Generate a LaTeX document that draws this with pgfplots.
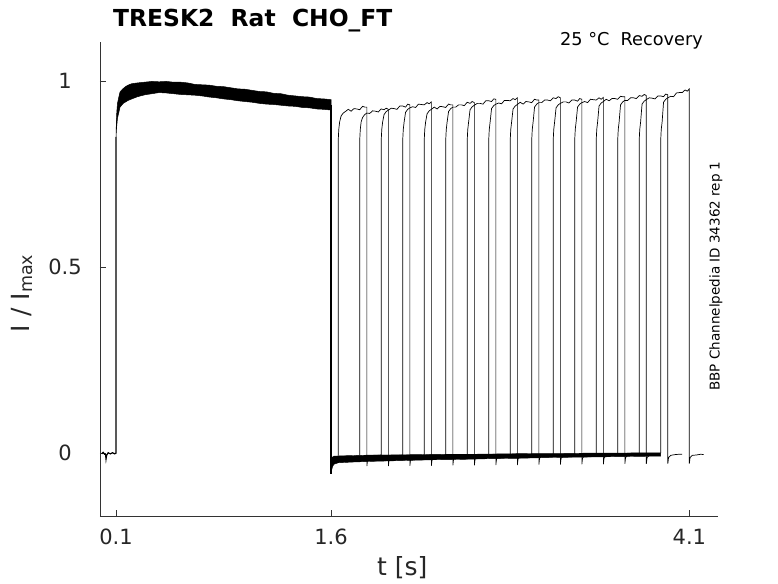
\documentclass[border=0pt]{standalone}
\usepackage{fontspec}
\setmainfont{DejaVu Sans}
\usepackage{pgfplots}
\pgfplotsset{compat=1.18}
\pgfplotsset{tr/.style={black, line width=0.7pt, mark=none}}
\begin{document}
\begin{tikzpicture}
\useasboundingbox (-100pt,-67pt) rectangle (678pt,516pt);
\begin{axis}[
  at={(0,0)}, anchor=south west,
  scale only axis, width=618pt, height=474pt,
  xmin=-0.012, xmax=4.3, ymin=-0.169, ymax=1.105,
  axis x line*=bottom, axis y line*=left,
  axis line style={line width=0.6pt, black!80},
  tick align=inside, major tick length=6pt,
  tick style={line width=0.6pt, black!80},
  xtick={0.1,1.6,4.1}, xticklabels={0.1,1.6,4.1},
  ytick={0,0.5,1}, yticklabels={0,0.5,1},
  /pgf/number format/assume math mode=true,
  tick label style={font=\fontsize{21}{25}\selectfont, text=black!85},
  xticklabel style={anchor=center, yshift=-21pt},
  yticklabel style={anchor=center, xshift=-35pt},
  every axis x label/.style={at={(axis description cs:0.489,-0.108)}, anchor=center},
  every axis y label/.style={at={(axis description cs:-0.126,0.47)}, anchor=center, rotate=90},
  label style={font=\fontsize{25}{30}\selectfont, text=black!85},
  xlabel={t [s]},
  ylabel={I / I\textsubscript{max}},
]
% holding before first pulse
\addplot[black, line width=1.2pt, mark=none] coordinates {(0,-0.002)(0.01,0.002)(0.02,-0.003)(0.027,-0.004)(0.03,-0.016)(0.034,-0.006)(0.045,0.001)(0.06,-0.002)(0.075,0.001)(0.09,-0.002)(0.1,0)(0.1,0.85)};
% first (conditioning) pulse, overlaid sweeps as band
\addplot[black, fill=black, line width=0.5pt, mark=none] coordinates {
(0.1,0.85)(0.102,0.89)(0.105,0.915)(0.11,0.94)(0.12,0.958)(0.128,0.971)(0.14,0.976)(0.15,0.98)(0.17,0.986)(0.184,0.989)(0.21,0.993)(0.25,0.995)(0.3,0.997)(0.35,0.999)(0.4,0.998)(0.45,0.999)(0.5,0.997)(0.55,0.997)(0.6,0.995)(0.65,0.991)(0.7,0.99)(0.75,0.989)(0.8,0.986)(0.85,0.985)(0.9,0.982)(0.95,0.979)(1.0,0.978)(1.05,0.975)(1.1,0.972)(1.15,0.971)(1.2,0.967)(1.25,0.966)(1.3,0.962)(1.35,0.96)(1.4,0.958)(1.45,0.957)(1.5,0.953)(1.55,0.952)(1.6,0.95)
(1.6,0.922)(1.55,0.924)(1.5,0.925)(1.45,0.928)(1.4,0.929)(1.35,0.932)(1.3,0.933)(1.25,0.935)(1.2,0.937)(1.15,0.938)(1.1,0.94)(1.05,0.943)(1.0,0.945)(0.95,0.947)(0.9,0.95)(0.85,0.952)(0.8,0.955)(0.75,0.957)(0.7,0.96)(0.65,0.962)(0.6,0.963)(0.55,0.964)(0.5,0.966)(0.45,0.968)(0.4,0.969)(0.35,0.966)(0.3,0.963)(0.25,0.958)(0.21,0.952)(0.184,0.948)(0.15,0.94)(0.128,0.93)(0.11,0.9)(0.105,0.88)(0.102,0.865)(0.1,0.85)} -- cycle;
\addplot[black, line width=1.5pt, mark=none] coordinates {(1.6,0.935)(1.6,-0.055)};
% baseline band after first pulse
\addplot[black, fill=black, line width=0.4pt, mark=none] coordinates {
(1.6,-0.055)(1.601,-0.02)(1.605,-0.012)(1.62,-0.008)(1.7,-0.007)(1.8,-0.006)(1.9,-0.005)(2.0,-0.005)(2.2,-0.004)(2.4,-0.003)(2.6,-0.003)(2.8,-0.002)(3.0,-0.001)(3.2,-0.001)(3.4,0.0)(3.6,0.0)(3.8,0.001)(3.9,0.001)
(3.9,-0.008)(3.7,-0.009)(3.5,-0.01)(3.3,-0.011)(3.1,-0.012)(2.9,-0.014)(2.7,-0.015)(2.5,-0.017)(2.3,-0.018)(2.1,-0.02)(1.9,-0.022)(1.75,-0.024)(1.65,-0.026)(1.62,-0.03)(1.61,-0.037)(1.605,-0.045)(1.602,-0.051)} -- cycle;
% test pulses
\addplot[tr] coordinates {(1.65,-0.007)(1.65,0.84)(1.654,0.87)(1.66,0.89)(1.67,0.906)(1.685,0.914)(1.70,0.918)(1.72,0.924)(1.74,0.919)(1.76,0.926)(1.78,0.925)(1.80,0.923)(1.82,0.932)(1.835,0.930)(1.85,0.930)(1.85,-0.035)(1.855,-0.018)(1.87,-0.01)(1.90,-0.007)(1.95,-0.005)};
\addplot[tr] coordinates {(1.80,-0.006)(1.80,0.84)(1.804,0.87)(1.81,0.89)(1.82,0.902)(1.835,0.91)(1.85,0.914)(1.87,0.913)(1.89,0.920)(1.91,0.919)(1.93,0.917)(1.95,0.925)(1.97,0.923)(1.985,0.927)(2.00,0.924)(2.00,-0.035)(2.005,-0.018)(2.02,-0.01)(2.05,-0.007)(2.10,-0.005)};
\addplot[tr] coordinates {(1.95,-0.006)(1.95,0.84)(1.954,0.87)(1.96,0.89)(1.97,0.91)(1.985,0.918)(2.00,0.922)(2.02,0.927)(2.04,0.926)(2.06,0.924)(2.08,0.933)(2.10,0.933)(2.12,0.930)(2.135,0.938)(2.15,0.936)(2.15,-0.034)(2.155,-0.017)(2.17,-0.01)(2.20,-0.007)(2.25,-0.005)};
\addplot[tr] coordinates {(2.10,-0.005)(2.10,0.84)(2.104,0.87)(2.11,0.89)(2.12,0.916)(2.135,0.924)(2.15,0.928)(2.17,0.931)(2.19,0.929)(2.21,0.938)(2.23,0.937)(2.25,0.936)(2.27,0.942)(2.285,0.939)(2.30,0.944)(2.30,-0.034)(2.305,-0.017)(2.32,-0.01)(2.35,-0.007)(2.40,-0.005)};
\addplot[tr] coordinates {(2.25,-0.005)(2.25,0.84)(2.254,0.87)(2.26,0.89)(2.27,0.912)(2.285,0.92)(2.30,0.924)(2.32,0.930)(2.34,0.925)(2.36,0.932)(2.38,0.931)(2.40,0.929)(2.42,0.938)(2.435,0.936)(2.45,0.936)(2.45,-0.033)(2.455,-0.016)(2.47,-0.009)(2.50,-0.006)(2.55,-0.004)};
\addplot[tr] coordinates {(2.40,-0.004)(2.40,0.84)(2.404,0.87)(2.41,0.89)(2.42,0.918)(2.435,0.926)(2.45,0.930)(2.47,0.930)(2.49,0.936)(2.51,0.936)(2.53,0.934)(2.55,0.943)(2.57,0.940)(2.585,0.945)(2.60,0.942)(2.60,-0.033)(2.605,-0.016)(2.62,-0.009)(2.65,-0.006)(2.70,-0.004)};
\addplot[tr] coordinates {(2.55,-0.004)(2.55,0.84)(2.554,0.87)(2.56,0.89)(2.57,0.923)(2.585,0.931)(2.60,0.935)(2.62,0.940)(2.64,0.940)(2.66,0.938)(2.68,0.947)(2.70,0.947)(2.72,0.945)(2.735,0.952)(2.75,0.951)(2.75,-0.032)(2.755,-0.015)(2.77,-0.009)(2.80,-0.006)(2.85,-0.004)};
\addplot[tr] coordinates {(2.70,-0.003)(2.70,0.84)(2.704,0.87)(2.71,0.89)(2.72,0.926)(2.735,0.934)(2.75,0.938)(2.77,0.941)(2.79,0.939)(2.81,0.948)(2.83,0.948)(2.85,0.947)(2.87,0.953)(2.885,0.950)(2.90,0.955)(2.90,-0.032)(2.905,-0.015)(2.92,-0.008)(2.95,-0.005)(3.00,-0.003)};
\addplot[tr] coordinates {(2.85,-0.003)(2.85,0.84)(2.854,0.87)(2.86,0.89)(2.87,0.925)(2.885,0.933)(2.90,0.937)(2.92,0.943)(2.94,0.938)(2.96,0.945)(2.98,0.944)(3.00,0.942)(3.02,0.951)(3.035,0.949)(3.05,0.949)(3.05,-0.031)(3.055,-0.014)(3.07,-0.008)(3.10,-0.005)(3.15,-0.003)};
\addplot[tr] coordinates {(3.00,-0.002)(3.00,0.84)(3.004,0.87)(3.01,0.89)(3.02,0.930)(3.035,0.938)(3.05,0.942)(3.07,0.942)(3.09,0.949)(3.11,0.949)(3.13,0.947)(3.15,0.955)(3.17,0.953)(3.185,0.958)(3.20,0.955)(3.20,-0.031)(3.205,-0.014)(3.22,-0.008)(3.25,-0.005)(3.30,-0.003)};
\addplot[tr] coordinates {(3.15,-0.002)(3.15,0.84)(3.154,0.87)(3.16,0.89)(3.17,0.928)(3.185,0.936)(3.20,0.940)(3.22,0.944)(3.24,0.944)(3.26,0.941)(3.28,0.949)(3.30,0.949)(3.32,0.946)(3.335,0.953)(3.35,0.951)(3.35,-0.030)(3.355,-0.013)(3.37,-0.007)(3.40,-0.004)(3.45,-0.002)};
\addplot[tr] coordinates {(3.30,-0.002)(3.30,0.84)(3.304,0.87)(3.31,0.89)(3.32,0.930)(3.335,0.938)(3.35,0.942)(3.37,0.945)(3.39,0.942)(3.41,0.951)(3.43,0.950)(3.45,0.949)(3.47,0.955)(3.485,0.951)(3.50,0.956)(3.50,-0.030)(3.505,-0.013)(3.52,-0.007)(3.55,-0.004)(3.60,-0.002)};
\addplot[tr] coordinates {(3.45,-0.001)(3.45,0.84)(3.454,0.87)(3.46,0.89)(3.47,0.933)(3.485,0.941)(3.50,0.945)(3.52,0.951)(3.54,0.947)(3.56,0.953)(3.58,0.953)(3.60,0.951)(3.62,0.959)(3.635,0.958)(3.65,0.958)(3.65,-0.029)(3.655,-0.012)(3.67,-0.006)(3.70,-0.004)(3.75,-0.002)};
\addplot[tr] coordinates {(3.60,-0.001)(3.60,0.84)(3.604,0.87)(3.61,0.89)(3.62,0.936)(3.635,0.944)(3.65,0.948)(3.67,0.948)(3.69,0.955)(3.71,0.955)(3.73,0.953)(3.75,0.961)(3.77,0.959)(3.785,0.964)(3.80,0.961)(3.80,-0.029)(3.805,-0.012)(3.82,-0.006)(3.85,-0.004)(3.90,-0.002)};
\addplot[tr] coordinates {(3.75,0.0)(3.75,0.84)(3.754,0.87)(3.76,0.89)(3.77,0.938)(3.785,0.946)(3.80,0.950)(3.82,0.955)(3.84,0.954)(3.86,0.952)(3.88,0.960)(3.90,0.960)(3.92,0.958)(3.935,0.965)(3.95,0.963)(3.95,-0.028)(3.955,-0.012)(3.97,-0.006)(4.00,-0.004)(4.03,-0.003)(4.05,-0.003)};
\addplot[tr] coordinates {(3.90,0.0)(3.90,0.84)(3.904,0.87)(3.91,0.89)(3.92,0.943)(3.935,0.951)(3.95,0.955)(3.97,0.959)(3.99,0.958)(4.01,0.968)(4.03,0.969)(4.05,0.969)(4.07,0.976)(4.085,0.973)(4.10,0.979)(4.10,-0.028)(4.105,-0.012)(4.12,-0.006)(4.15,-0.005)(4.18,-0.003)(4.20,-0.004)};
\end{axis}
\node[anchor=base west, inner sep=0pt, font=\fontsize{23.4}{28}\selectfont\bfseries] at (13pt,489.3pt) {TRESK2\ \ Rat\ \ CHO\_FT};
\node[anchor=east, inner sep=0pt, font=\fontsize{17.7}{21}\selectfont] at (603pt,475pt) {25 °C\ \ Recovery};
\node[rotate=90, anchor=center, inner sep=0pt, font=\fontsize{13.5}{16}\selectfont] at (616pt,240pt) {BBP Channelpedia ID 34362 rep 1};
\end{tikzpicture}
\end{document}
